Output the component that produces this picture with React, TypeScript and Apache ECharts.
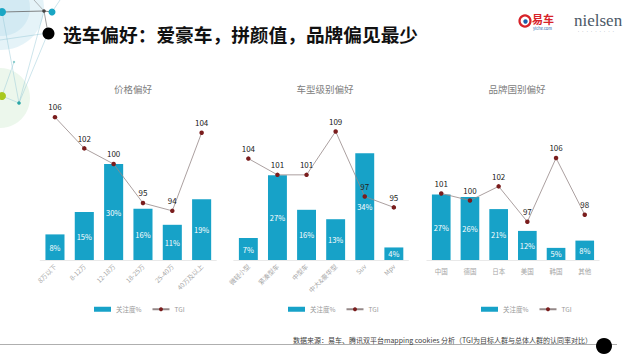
import React, { useEffect, useRef } from "react";
import * as echarts from "echarts";

const priceCats = ["8万以下", "8-12万", "12-18万", "18-25万", "25-40万", "40万及以上"];
const priceShare = [8, 15, 30, 16, 11, 19];
const priceTGI = [106, 102, 100, 95, 94, 104];

const classCats = ["微轻小型", "紧凑型车", "中型车", "中大&豪华型", "Suv", "Mpv"];
const classShare = [7, 27, 16, 13, 34, 4];
const classTGI = [104, 101, 101, 109, 97, 95];

const brandCats = ["中国", "德国", "日本", "美国", "韩国", "其他"];
const brandShare = [27, 26, 21, 12, 5, 8];
const brandTGI = [101, 100, 102, 97, 106, 98];

const chartTitles = ["价格偏好", "车型级别偏好", "品牌国别偏好"];
const barName = "关注度%";
const lineName = "TGI";

const BAR = "#17a2c8";
const DOT = "#7a1d1d";
const FONT = "'Noto Sans CJK SC', 'Noto Sans', sans-serif";

export default function App() {
  const ref = useRef<HTMLDivElement>(null);
  useEffect(() => {
    const chart = echarts.init(ref.current!, null, { renderer: "svg" });
    const panels = [
      { cats: priceCats, share: priceShare, tgi: priceTGI, left: 40.3, width: 176, barMax: 50, tMin: 87.7, tMax: 108.2, rotate: 45, cx: 128 },
      { cats: classCats, share: classShare, tgi: classTGI, left: 233.8, width: 174.6, barMax: 51, tMin: 85.3, tMax: 114.8, rotate: 45, cx: 320 },
      { cats: brandCats, share: brandShare, tgi: brandTGI, left: 426.9, width: 172.2, barMax: 66, tMin: 91.6, tMax: 114.2, rotate: 0, cx: 512 },
    ];
    const grid: any[] = [];
    const xAxis: any[] = [];
    const yAxis: any[] = [];
    const series: any[] = [];
    const title: any[] = [];
    const legend: any[] = [];
    const legendX = [89, 283, 476];
    panels.forEach((p, i) => {
      grid.push({ left: p.left, width: p.width, top: 100, height: 160 });
      xAxis.push({
        type: "category",
        gridIndex: i,
        data: p.cats,
        axisTick: { show: false },
        axisLine: { show: true, lineStyle: { color: "#e3e3e3", width: 0.8 } },
        axisLabel: {
          rotate: p.rotate,
          fontSize: 6.5,
          color: "#a6a6a6",
          fontFamily: FONT,
          margin: p.rotate ? 5 : 8,
          interval: 0,
        },
      });
      yAxis.push({ type: "value", gridIndex: i, min: 0, max: p.barMax, show: false, splitLine: { show: false } });
      yAxis.push({ type: "value", gridIndex: i, min: p.tMin, max: p.tMax, show: false, splitLine: { show: false } });
      series.push({
        type: "bar",
        name: barName,
        xAxisIndex: i,
        yAxisIndex: 2 * i,
        data: p.share,
        barWidth: "65%",
        itemStyle: { color: BAR },
        label: {
          show: true,
          position: "inside",
          formatter: "{c}%",
          color: "#ffffff",
          fontSize: 7.5,
          fontFamily: FONT,
        },
      });
      series.push({
        type: "line",
        name: lineName,
        xAxisIndex: i,
        yAxisIndex: 2 * i + 1,
        data: p.tgi,
        symbol: "circle",
        symbolSize: 4.5,
        lineStyle: { color: "#958888", width: 0.8 },
        itemStyle: { color: DOT },
        label: {
          show: true,
          position: "top",
          distance: 4,
          color: "#222222",
          fontSize: 8,
          fontFamily: FONT,
        },
        z: 5,
      });
      title.push({
        text: chartTitles[i],
        left: p.cx,
        top: 79,
        textAlign: "center",
        textStyle: { fontSize: 9.5, color: "#808080", fontWeight: "normal", fontFamily: FONT },
      });
      legend.push({
        left: legendX[i],
        top: 301,
        itemWidth: 17,
        itemHeight: 5,
        itemGap: 10,
        textStyle: { fontSize: 6.5, color: "#999999", fontFamily: FONT },
        data: [{ name: barName, icon: "rect" }, { name: lineName }],
      });
    });

    const graphic: any[] = [
      // decorative network, top-left
      { type: "circle", shape: { cx: 2, cy: 8, r: 42 }, style: { fill: "rgba(170,215,232,0.3)" }, z: -10 },
      { type: "circle", shape: { cx: 2, cy: 8, r: 28 }, style: { fill: "rgba(170,215,232,0.3)" }, z: -10 },
      { type: "circle", shape: { cx: 0, cy: 98, r: 30 }, style: { fill: "rgba(200,232,200,0.35)" }, z: -10 },
      { type: "line", shape: { x1: 2, y1: 12, x2: 44, y2: 11 }, style: { stroke: "#666", lineWidth: 0.8 }, z: -5 },
      { type: "line", shape: { x1: 44, y1: 11, x2: 52, y2: 12 }, style: { stroke: "#666", lineWidth: 0.8 }, z: -5 },
      { type: "line", shape: { x1: 34, y1: 0, x2: 44, y2: 11 }, style: { stroke: "#888", lineWidth: 0.6 }, z: -5 },
      { type: "line", shape: { x1: 44, y1: 11, x2: 48, y2: 33 }, style: { stroke: "#777", lineWidth: 0.7 }, z: -5 },
      { type: "line", shape: { x1: 2, y1: 12, x2: 19, y2: 103 }, style: { stroke: "rgba(150,200,215,0.8)", lineWidth: 0.6 }, z: -5 },
      { type: "line", shape: { x1: 44, y1: 11, x2: 19, y2: 103 }, style: { stroke: "rgba(150,200,215,0.8)", lineWidth: 0.6 }, z: -5 },
      { type: "line", shape: { x1: 48, y1: 33, x2: 19, y2: 103 }, style: { stroke: "rgba(150,200,215,0.8)", lineWidth: 0.6 }, z: -5 },
      { type: "line", shape: { x1: 0, y1: 40, x2: 48, y2: 33 }, style: { stroke: "rgba(150,200,215,0.8)", lineWidth: 0.6 }, z: -5 },
      { type: "line", shape: { x1: 2, y1: 96, x2: 19, y2: 103 }, style: { stroke: "rgba(150,200,215,0.8)", lineWidth: 0.6 }, z: -5 },
      { type: "line", shape: { x1: 14, y1: 62, x2: 2, y2: 96 }, style: { stroke: "rgba(150,200,215,0.8)", lineWidth: 0.6 }, z: -5 },
      { type: "line", shape: { x1: 60, y1: 0, x2: 52, y2: 12 }, style: { stroke: "rgba(150,200,215,0.8)", lineWidth: 0.6 }, z: -5 },
      { type: "circle", shape: { cx: 2, cy: 12, r: 4 }, style: { fill: "#1aa6c4" }, z: -4 },
      { type: "circle", shape: { cx: 52, cy: 12, r: 3.5 }, style: { fill: "#1aa6c4" }, z: -4 },
      { type: "circle", shape: { cx: 44, cy: 11, r: 1.8 }, style: { fill: "#444" }, z: -4 },
      { type: "circle", shape: { cx: 14, cy: 62, r: 1.2 }, style: { fill: "#8cc" }, z: -4 },
      { type: "circle", shape: { cx: 2, cy: 96, r: 4 }, style: { fill: "#a8c81e" }, z: -4 },
      { type: "circle", shape: { cx: 19, cy: 103, r: 1.8 }, style: { fill: "#2aa6a6" }, z: -4 },
      // title
      { type: "circle", shape: { cx: 48.5, cy: 33.5, r: 6 }, style: { fill: "#000" } },
      {
        type: "text",
        x: 63,
        y: 33.5,
        style: {
          text: "选车偏好：爱豪车，拼颜值，品牌偏见最少",
          fontSize: 18.7,
          fontWeight: "bold",
          fill: "#111",
          fontFamily: FONT,
          verticalAlign: "middle",
        },
      },
      // logos
      { type: "circle", shape: { cx: 525, cy: 21, r: 5.5 }, style: { fill: "none", stroke: "#d7232a", lineWidth: 2.2 } },
      { type: "circle", shape: { cx: 525.5, cy: 21.5, r: 2.2 }, style: { fill: "#1a5fae" } },
      {
        type: "text",
        x: 532,
        y: 18.5,
        style: { text: "易车", fontSize: 11, fontWeight: "bold", fill: "#d7232a", fontFamily: FONT, verticalAlign: "middle" },
      },
      {
        type: "text",
        x: 533,
        y: 28,
        style: { text: "yiche.com", fontSize: 4, fill: "#1a5fae", fontFamily: FONT, verticalAlign: "middle" },
      },
      {
        type: "text",
        x: 574,
        y: 20,
        style: { text: "nielsen", fontSize: 17, fill: "#4b5866", fontFamily: "'Liberation Serif', 'DejaVu Serif', serif", verticalAlign: "middle" },
      },
      {
        type: "text",
        x: 577,
        y: 31.5,
        style: { text: "•  •  •  •  •  •  •  •  •", fontSize: 3, fill: "#7a8590", fontFamily: FONT, verticalAlign: "middle" },
      },
      // footer
      { type: "line", shape: { x1: 0, y1: 344.5, x2: 617, y2: 344.5 }, style: { stroke: "#9a9a9a", lineWidth: 0.8 } },
      { type: "circle", shape: { cx: 604, cy: 346, r: 8 }, style: { fill: "#000" } },
      {
        type: "text",
        x: 592,
        y: 339.5,
        style: {
          text: "数据来源：易车、腾讯双平台mapping cookies 分析（TGI为目标人群与总体人群的认同率对比）",
          fontSize: 7,
          fill: "#404040",
          fontFamily: FONT,
          align: "right",
          verticalAlign: "middle",
        },
      },
    ];

    chart.setOption({
      animation: false,
      backgroundColor: "#ffffff",
      title,
      legend,
      grid,
      xAxis,
      yAxis,
      series,
      graphic,
    });
    return () => chart.dispose();
  }, []);
  return <div ref={ref} style={{ position: "fixed", left: 0, top: 0, width: 640, height: 360 }} />;
}
